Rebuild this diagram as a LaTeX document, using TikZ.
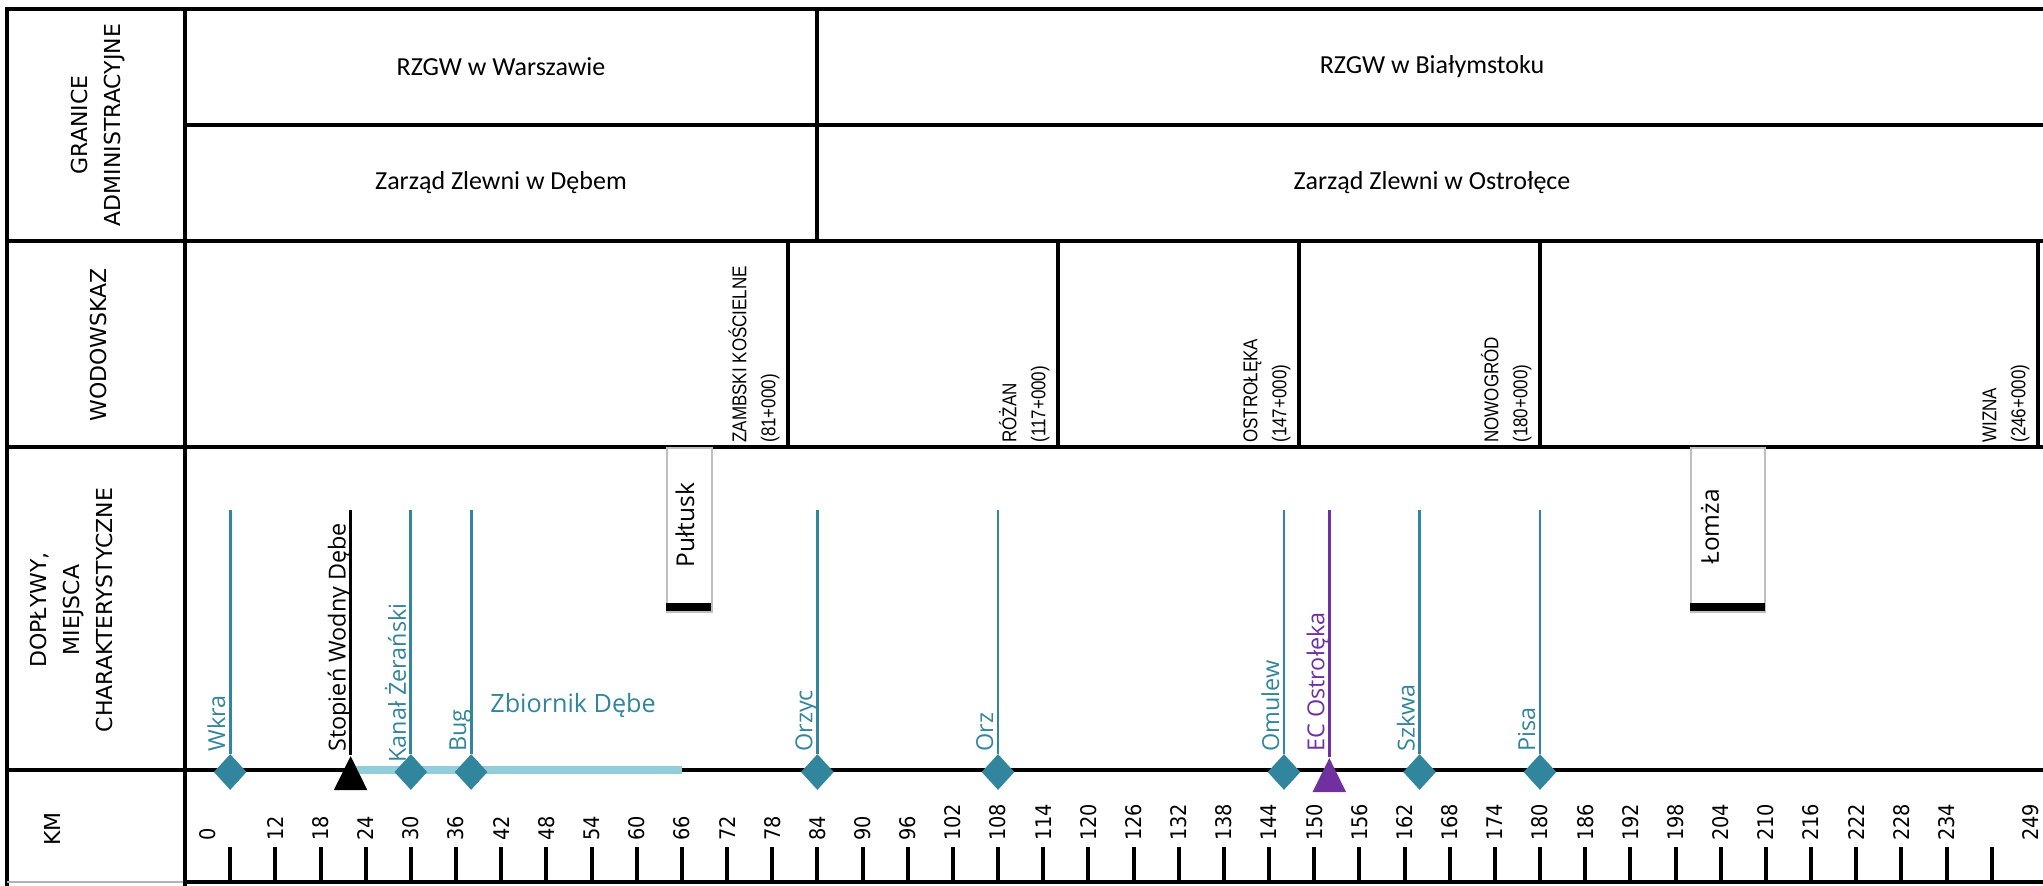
\documentclass[tikz,border=0pt]{standalone}
\usepackage{fontspec}
\setmainfont{DejaVu Sans}
\newfontfamily\calfont{Carlito}
\newfontfamily\opensans{Open Sans}
\newfontfamily\narrowfont[FakeStretch=0.85]{Liberation Sans}
\newfontfamily\kmfont[FakeStretch=0.9]{DejaVu Sans}
\usetikzlibrary{shapes.geometric}
\definecolor{rivteal}{HTML}{31859C}
\definecolor{ecpurple}{HTML}{7030A0}
\definecolor{zbblue}{HTML}{92CDDC}
\definecolor{boxgray}{HTML}{BFBFBF}
\tikzset{
  gridline/.style={line width=1.6pt, line cap=rect},
  hdr/.style={font=\fontsize{11}{16.5}\selectfont, rotate=90, align=center, inner sep=0},
  admin/.style={font=\calfont\fontsize{13}{15.6}\selectfont, inner sep=0},
  gauge/.style={font=\narrowfont\fontsize{10}{14.5}\selectfont, rotate=90, align=left, anchor=south west, inner sep=0},
  kmlab/.style={font=\kmfont\fontsize{10.75}{12}\selectfont, rotate=90, anchor=west, inner sep=0},
  tickmark/.style={line width=2pt},
  trib/.style={diamond, fill=rivteal, inner sep=0, minimum width=16.5pt, minimum height=18pt},
  feeder/.style={line width=1.4pt, rivteal},
  rivlab/.style={font=\opensans\fontsize{11.7}{13}\selectfont, rotate=90, anchor=base west, inner sep=0, text=rivteal},
  tri/.style={isosceles triangle, isosceles triangle stretches, shape border rotate=90, inner sep=0, minimum width=16.75pt, minimum height=17pt, anchor=apex},
  townbox/.style={draw=boxgray, line width=0.75pt, inner sep=0},
  townlab/.style={font=\opensans\fontsize{12.25}{14}\selectfont, rotate=90, inner sep=0},
}
\begin{document}
\begin{tikzpicture}[x=0.5pt,y=-0.5pt]
\useasboundingbox (0,0) rectangle (2043,885);
% ---- grid ----
\draw[gridline] (7,9) -- (2043,9);
\draw[gridline] (7,9) -- (7,885);
\draw[gridline] (185,9) -- (185,885);
\draw[gridline] (185,125) -- (2043,125);
\draw[gridline] (7,241) -- (2043,241);
\draw[gridline] (7,447) -- (2043,447);
\draw[gridline] (7,770) -- (2043,770);
\draw[line width=0.6pt, gray!60] (7,882) -- (185,882);
\draw[gridline] (185,882) -- (2043,882);
\draw[gridline] (817,9) -- (817,241);
\foreach \dx in {788,1058,1299,1540,2038} {\draw[gridline] (\dx,241) -- (\dx,447);}
% ---- headers ----
\node[hdr] (h-gran) at (98,125) {GRANICE\\ADMINISTRACYJNE};
\node[hdr] (h-wod) at (98,345) {WODOWSKAZ};
\node[hdr] (h-dop) at (71,610) {DOPŁYWY,\\MIEJSCA\\CHARAKTERYSTYCZNE};
\node[hdr] (h-km) at (52,829) {KM};
% ---- admin ----
\node[admin] (a1) at (501,67) {RZGW w Warszawie};
\node[admin] (a2) at (501,183) {Zarząd Zlewni w Dębem};
\node[admin] (a3) at (1432,67) {RZGW w Białymstoku};
\node[admin] (a4) at (1432,183) {Zarząd Zlewni w Ostrołęce};
% ---- gauges ----
\node[gauge] (g1) at (780,443) {ZAMBSKI KOŚCIELNE\\(81+000)};
\node[gauge] (g2) at (1050,443) {RÓŻAN\\(117+000)};
\node[gauge] (g3) at (1291,443) {OSTROŁĘKA\\(147+000)};
\node[gauge] (g4) at (1532,443) {NOWOGRÓD\\(180+000)};
\node[gauge] (g5) at (2030,443) {WIZNA\\(246+000)};
% ---- km scale ----
\foreach \k in {1,...,40} {\draw[tickmark] ({185+45.17*\k},847) -- ({185+45.17*\k},882);}
\foreach \k in {2,...,39} {\pgfmathtruncatemacro{\kmv}{6*\k}\node[kmlab] (km\k) at ({185+45.17*\k},841) {\kmv};}
\node[kmlab] (km0) at (208,841) {0};
\node[kmlab] (km249) at (2031,841) {249};
% ---- towns ----
\node[townbox, minimum width=22.5pt, minimum height=82pt, anchor=north west] (pult-box) at (666,447) {};
\fill (666,603) rectangle (711,611);
\node[townlab] (pult) at (685,525) {Pułtusk};
\node[townbox, minimum width=37pt, minimum height=82pt, anchor=north west] (lomza-box) at (1690,447) {};
\fill (1690,603) rectangle (1765,611);
\node[townlab] (lomza) at (1710,527) {Łomża};
% ---- reservoir ----
\coordinate (zb-start) at (350.6,770);
\coordinate (zb-end) at (682,770);
\draw[zbblue, line width=4pt] (zb-start) -- (zb-end);
\node[font=\opensans\fontsize{12.6}{14}\selectfont, text=rivteal, anchor=base west, inner sep=0] (zb-lab) at (490,712) {Zbiornik Dębe};
% ---- tributaries ----
\foreach \nm/\xx/\lab/\ly in {wkra/230.2/Wkra/752, kanal/410.8/{Kanał Żerański}/763, bug/471.1/Bug/752, orzyc/817.4/Orzyc/752, orz/998/Orz/752, omulew/1284/Omulew/752, szkwa/1419.6/Szkwa/752, pisa/1540/Pisa/752} {
  \node[trib] (\nm) at (\xx,772) {};
  \coordinate (\nm-top) at (\xx,510);
  \draw[feeder] (\nm-top) -- (\nm.north);
  \node[rivlab] (\nm-lab) at (\xx-5,\ly) {\lab};
}
% ---- dam ----
\node[tri, fill=black] (stop) at (350.6,755) {};
\coordinate (stop-top) at (350.6,510);
\draw[line width=1.4pt] (stop-top) -- (stop.apex);
\node[rivlab, text=black] (stop-lab) at (345.6,752) {Stopień Wodny Dębe};
% ---- power plant ----
\node[tri, fill=ecpurple] (ec) at (1329.3,757) {};
\coordinate (ec-top) at (1329.3,510);
\draw[line width=1.4pt, ecpurple] (ec-top) -- (ec.apex);
\node[rivlab, text=ecpurple] (ec-lab) at (1324.3,752) {EC Ostrołęka};
\end{tikzpicture}
\end{document}
